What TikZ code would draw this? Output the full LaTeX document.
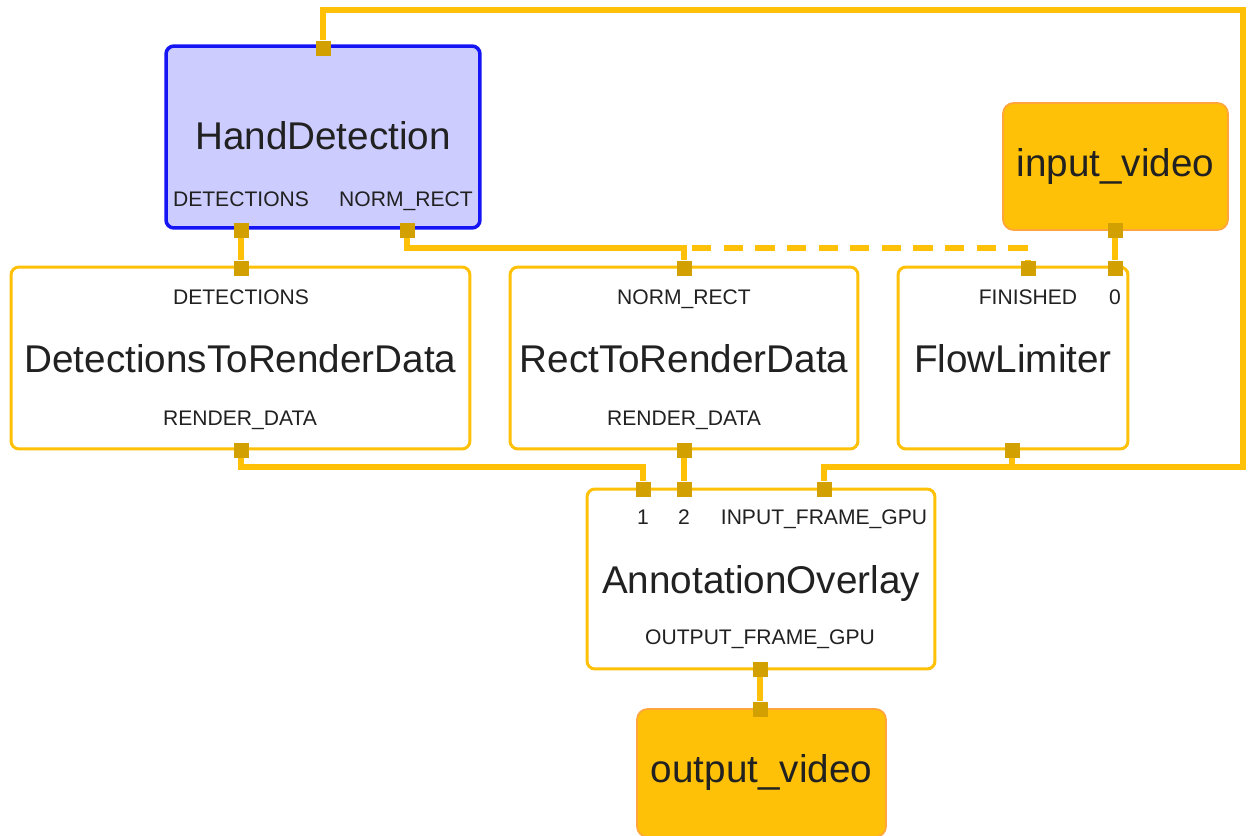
\documentclass[tikz,border=0pt]{standalone}
\usepackage{fontspec}
\setmainfont{Liberation Sans}
\pgfdeclarelayer{background}
\pgfsetlayers{background,main}
\definecolor{wireamber}{RGB}{255,193,7}
\definecolor{portgold}{RGB}{210,160,0}
\definecolor{hdblue}{RGB}{20,20,245}
\definecolor{hdfill}{RGB}{204,204,255}
\definecolor{streamfill}{RGB}{255,193,7}
\definecolor{streamedge}{RGB}{255,165,60}
\definecolor{inktext}{RGB}{33,33,33}

\begin{document}
\begin{tikzpicture}
            [x=0.02cm, y=-0.02cm,
             calc/.style={draw=wireamber, line width=1.7pt, fill=white, rounded corners=4.5pt, inner sep=0pt, text=inktext, font=\fontsize{22}{26}\selectfont, text height=16pt, text depth=0pt},
             subgraph/.style={calc, draw=hdblue, line width=2pt, fill=hdfill, text depth=2pt},
             stream/.style={calc, draw=streamedge, line width=1pt, fill=streamfill, rounded corners=6pt, text depth=5pt},
             port/.style={fill=portgold, minimum size=0.3cm, inner sep=0pt},
             wire/.style={draw=wireamber, line width=3.3pt},
             tag/.style={text=inktext, inner sep=0pt, font=\fontsize{12}{14}\selectfont, text height=8.6pt, text depth=0pt}]
            \useasboundingbox (0,0) rectangle (1249,836);

            \node[subgraph, minimum width=6.28cm, minimum height=3.64cm] (hd) at (323,137) {HandDetection};
            \node[calc, minimum width=9.18cm, minimum height=3.64cm] (dr) at (240.5,358) {DetectionsToRenderData};
            \node[calc, minimum width=6.96cm, minimum height=3.64cm] (rr) at (684,358) {RectToRenderData};
            \node[calc, minimum width=4.6cm, minimum height=3.64cm] (fl) at (1013,358) {FlowLimiter};
            \node[stream, minimum width=4.5cm, minimum height=2.54cm] (iv) at (1115.5,166.5) {input\_video};
            \node[calc, minimum width=6.96cm, minimum height=3.6cm] (ao) at (761,579) {AnnotationOverlay};
            \node[stream, minimum width=4.98cm, minimum height=2.56cm] (ov) at (761.5,773) {output\_video};

            \node[tag] (hd-det-tag) at (241,199) {DETECTIONS};
            \node[tag] (hd-rect-tag) at (406,199) {NORM\_RECT};
            \node[tag] (dr-det-tag) at (241,297) {DETECTIONS};
            \node[tag] (dr-out-tag) at (240,418) {RENDER\_DATA};
            \node[tag] (rr-rect-tag) at (684,297) {NORM\_RECT};
            \node[tag] (rr-out-tag) at (684,418) {RENDER\_DATA};
            \node[tag] (fl-done-tag) at (1028,297) {FINISHED};
            \node[tag] (fl-in-tag) at (1115,297) {0};
            \node[tag] (ao-one-tag) at (643,517) {1};
            \node[tag] (ao-two-tag) at (684,517) {2};
            \node[tag] (ao-frame-tag) at (824,517) {INPUT\_FRAME\_GPU};
            \node[tag] (ao-out-tag) at (760,637) {OUTPUT\_FRAME\_GPU};

            \node[port] (hd-in) at (323,48) {};
            \node[port] (hd-det) at (241,230) {};
            \node[port] (hd-rect) at (407,230) {};
            \node[port] (dr-det) at (241,268) {};
            \node[port] (dr-out) at (241,450) {};
            \node[port] (rr-rect) at (684,268) {};
            \node[port] (rr-out) at (684,450) {};
            \node[port] (fl-done) at (1028,268) {};
            \node[port] (fl-in) at (1115,268) {};
            \node[port] (fl-out) at (1012,450) {};
            \node[port] (iv-out) at (1115,230) {};
            \node[port] (ao-one) at (643,489) {};
            \node[port] (ao-two) at (684,489) {};
            \node[port] (ao-frame) at (824,489) {};
            \node[port] (ao-out) at (760,669) {};
            \node[port] (ov-in) at (760,709) {};

            \begin{pgfonlayer}{background}
                \draw[wire] (fl-out) -- ++(0,17) coordinate (fl-split) -| (1243,10) -| (hd-in);
                \draw[wire] (fl-split) -| (ao-frame);
                \draw[wire] (hd-det) -- (dr-det);
                \draw[wire] (hd-rect) -- ++(0,18) -| (rr-rect);
                \draw[wire, dash pattern=on 11pt off 7pt] (rr-rect) ++(8,-20) -| (fl-done);
                \draw[wire] (iv-out) -- (fl-in);
                \draw[wire] (dr-out) -- ++(0,17) -| (ao-one);
                \draw[wire] (rr-out) -- (ao-two);
                \draw[wire] (ao-out) -- (ov-in);
            \end{pgfonlayer}
        \end{tikzpicture}
\end{document}
